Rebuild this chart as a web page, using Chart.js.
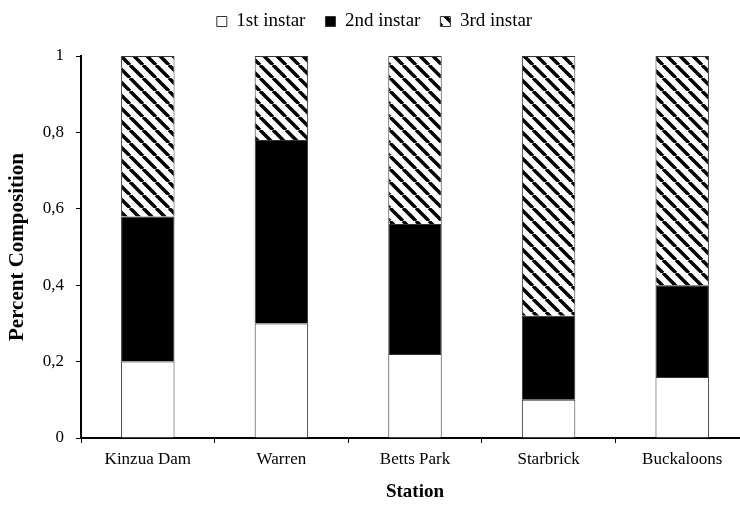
<!DOCTYPE html>
<html>
<head>
<meta charset="utf-8">
<script src="https://cdn.jsdelivr.net/npm/chart.js@4/dist/chart.umd.min.js"></script>
<style>
    html, body { margin: 0; padding: 0; overflow: hidden; background: #fff; }
    #wrap { width: 749px; height: 507px; }
</style>
</head>
<body>
<div id="wrap"><canvas id="chart" width="749" height="507"></canvas></div>
<script>
const stations = ['Kinzua Dam', 'Warren', 'Betts Park', 'Starbrick', 'Buckaloons'];
const firstInstar = [0.20, 0.30, 0.22, 0.10, 0.16];
const secondInstar = [0.38, 0.48, 0.34, 0.22, 0.24];
const thirdInstar = [0.42, 0.22, 0.44, 0.68, 0.60];
const yTicks = [0, 0.2, 0.4, 0.6, 0.8, 1];

const serif = "'Liberation Serif', 'Times New Roman', serif";

// diagonal "\" hatch for the 3rd instar
function makeHatch() {
    const size = 13;
    const c = document.createElement('canvas');
    c.width = size;
    c.height = size;
    const g = c.getContext('2d');
    g.fillStyle = '#fff';
    g.fillRect(0, 0, size, size);
    g.strokeStyle = '#000';
    g.lineWidth = 3.5;
    for (const k of [-size, 0, size]) {
        g.beginPath();
        g.moveTo(k, 0);
        g.lineTo(k + size, size);
        g.stroke();
    }
    return g.createPattern(c, 'repeat');
}

// legend sits high, leave the gap below it so the plot starts at y=56
const legendSpacer = {
    id: 'legendSpacer',
    afterInit(chart) {
        const legend = chart.legend;
        const fit = legend.fit;
        legend.fit = function () {
            fit.call(this);
            this.height = 64;
        };
    }
};

const ctx = document.getElementById('chart').getContext('2d');
const hatch = makeHatch();

const barStyle = {
    borderColor: '#333',
    borderWidth: 1,
    categoryPercentage: 1,
    barPercentage: 0.4
};

new Chart(ctx, {
    type: 'bar',
    data: {
        labels: stations,
        datasets: [
            { label: '1st instar', data: firstInstar, backgroundColor: '#fff', ...barStyle },
            { label: '2nd instar', data: secondInstar, backgroundColor: '#000', ...barStyle },
            { label: '3rd instar', data: thirdInstar, backgroundColor: hatch, ...barStyle }
        ]
    },
    plugins: [legendSpacer],
    options: {
        responsive: false,
        animation: false,
        devicePixelRatio: 1,
        layout: { padding: { top: -8, left: 0, right: 0, bottom: 0 } },
        plugins: {
            tooltip: { enabled: false },
            legend: {
                position: 'top',
                labels: {
                    color: '#000',
                    font: { family: serif, size: 19 },
                    boxWidth: 10,
                    boxHeight: 10,
                    padding: 20
                }
            }
        },
        scales: {
            x: {
                stacked: true,
                afterFit: scale => { scale.height = 69; },
                border: { color: '#000', width: 2 },
                grid: {
                    offset: true,
                    drawOnChartArea: false,
                    drawTicks: true,
                    tickLength: 5,
                    tickColor: '#000'
                },
                ticks: {
                    color: '#000',
                    font: { family: serif, size: 17 },
                    padding: 6,
                    maxRotation: 0
                },
                title: {
                    display: true,
                    text: 'Station',
                    color: '#000',
                    font: { family: serif, size: 19, weight: 'bold' },
                    padding: { top: 0, bottom: 4 }
                }
            },
            y: {
                stacked: true,
                min: 0,
                max: 1,
                afterFit: scale => { scale.width = 81; },
                afterBuildTicks: scale => {
                    scale.ticks = yTicks.map(v => ({ value: v }));
                },
                border: { color: '#000', width: 2 },
                grid: {
                    drawOnChartArea: false,
                    tickLength: 5,
                    tickColor: '#000'
                },
                ticks: {
                    color: '#000',
                    font: { family: serif, size: 17 },
                    padding: 12,
                    callback: v => String(Math.round(v * 10) / 10).replace('.', ',')
                },
                title: {
                    display: true,
                    text: 'Percent Composition',
                    color: '#000',
                    font: { family: serif, size: 21, weight: 'bold' },
                    padding: { top: 5, bottom: 0 }
                }
            }
        }
    }
});
</script>
</body>
</html>
